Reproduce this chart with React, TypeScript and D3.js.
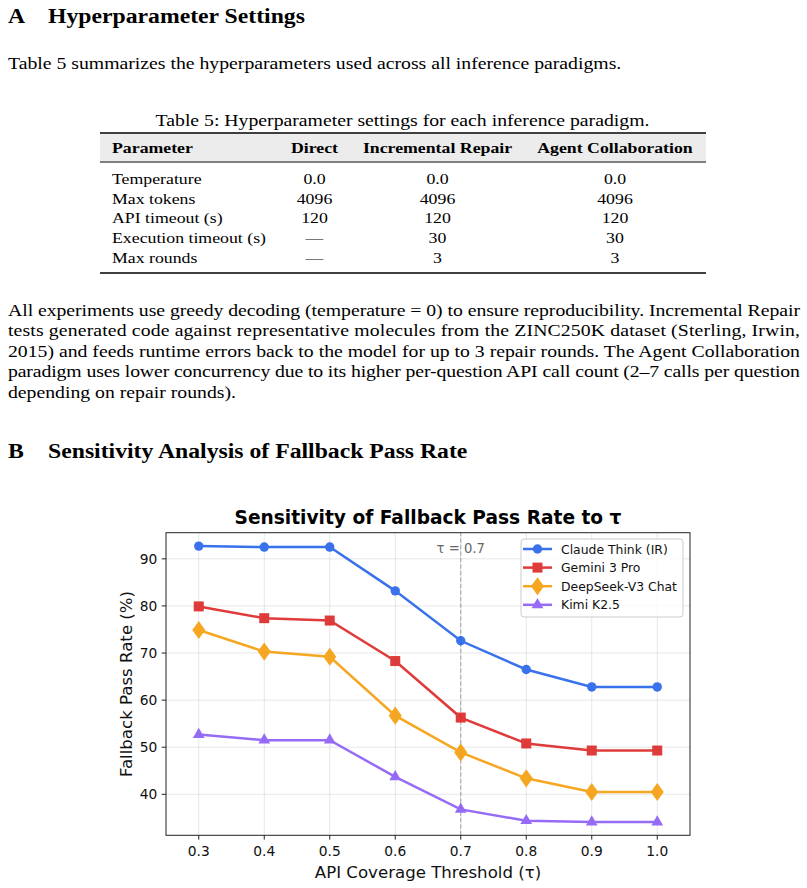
import React from "react";
import * as d3 from "d3";

const thresholds = [0.3, 0.4, 0.5, 0.6, 0.7, 0.8, 0.9, 1.0];
const claudeThink = [92.7, 92.5, 92.5, 83.2, 72.6, 66.5, 62.8, 62.8];
const gemini3Pro = [79.9, 77.4, 76.9, 68.3, 56.3, 50.8, 49.3, 49.3];
const deepseekV3 = [74.9, 70.3, 69.2, 56.7, 48.9, 43.4, 40.5, 40.5];
const kimiK25 = [52.7, 51.5, 51.5, 43.7, 36.8, 34.4, 34.1, 34.1];
const seriesNames = ["Claude Think (IR)", "Gemini 3 Pro", "DeepSeek-V3 Chat", "Kimi K2.5"];
const seriesColors = ["#2563eb", "#dc2626", "#f59e0b", "#8b5cf6"];
const seriesMarkers = ["circle", "square", "diamond", "triangle"];
const yTicks = [40, 50, 60, 70, 80, 90];
const xTickLabels = ["0.3", "0.4", "0.5", "0.6", "0.7", "0.8", "0.9", "1.0"];

const tableHeader = ["Parameter", "Direct", "Incremental Repair", "Agent Collaboration"];
const tableParams = ["Temperature", "Max tokens", "API timeout (s)", "Execution timeout (s)", "Max rounds"];
const tableDirect = ["0.0", "4096", "120", "—", "—"];
const tableIR = ["0.0", "4096", "120", "30", "3"];
const tableAC = ["0.0", "4096", "120", "30", "3"];

const para2Lines = [
  "All experiments use greedy decoding (temperature = 0) to ensure reproducibility. Incremental Repair",
  "tests generated code against representative molecules from the ZINC250K dataset (Sterling, Irwin,",
  "2015) and feeds runtime errors back to the model for up to 3 repair rounds. The Agent Collaboration",
  "paradigm uses lower concurrency due to its higher per-question API call count (2–7 calls per question",
  "depending on repair rounds).",
];

const serif = "'Liberation Serif', 'Times New Roman', serif";
const sans = "'DejaVu Sans', sans-serif";
const SX = 1.162;

function T({
  x,
  y,
  size,
  bold,
  anchor,
  fit,
  children,
}: {
  x: number;
  y: number;
  size: number;
  bold?: boolean;
  anchor?: string;
  fit?: number;
  children: React.ReactNode;
}) {
  const extra: any = fit ? { textLength: fit / SX, lengthAdjust: "spacing" } : {};
  return (
    <text
      transform={`translate(${x},${y}) scale(${SX},1)`}
      fontFamily={serif}
      fontSize={size}
      fontWeight={bold ? "bold" : "normal"}
      textAnchor={anchor || "start"}
      fill="#000"
      {...extra}
    >
      {children}
    </text>
  );
}

function Marker({ kind, x, y, color }: { kind: string; x: number; y: number; color: string }) {
  if (kind === "circle") return <circle cx={x} cy={y} r={4.7} fill={color} />;
  if (kind === "square") return <rect x={x - 5} y={y - 5} width={10} height={10} fill={color} />;
  if (kind === "diamond") {
    const s = d3.symbol().type(d3.symbolDiamond).size(95)();
    return <path d={s || ""} transform={`translate(${x},${y}) scale(1.25,1)`} fill={color} />;
  }
  const t = d3.symbol().type(d3.symbolTriangle).size(60)();
  return <path d={t || ""} transform={`translate(${x},${y})`} fill={color} />;
}

export default function App() {
  const x = d3.scaleLinear().domain([0.25, 1.05]).range([166, 690]);
  const y = d3.scaleLinear().domain([31.3, 95.55]).range([835.3, 532.7]);
  const [x0, x1] = x.range();
  const [y0, y1] = y.range();
  const allSeries = [claudeThink, gemini3Pro, deepseekV3, kimiK25];
  const line = d3
    .line<number>()
    .x((_, i) => x(thresholds[i]))
    .y((d) => y(d));

  const colX = [112, 314.5, 437.5, 615];
  const rowBase = [184, 203.5, 223, 243, 262.5];

  return (
    <svg width={807} height={888} style={{ position: "absolute", left: 0, top: 0, background: "#fff" }}>
      <rect x={0} y={0} width={807} height={888} fill="#fff" />
      {/* Heading A */}
      <T x={8} y={23} size={20.4} bold>A</T>
      <T x={48} y={23} size={20.4} bold>Hyperparameter Settings</T>
      <T x={8} y={68.5} size={17}>
        Table 5 summarizes the hyperparameters used across all inference paradigms.
      </T>

      {/* Table */}
      <T x={402.5} y={126} size={17} anchor="middle">
        Table 5: Hyperparameter settings for each inference paradigm.
      </T>
      <rect x={100} y={134} width={606} height={27} fill="#ececec" />
      <line x1={100} x2={706} y1={133} y2={133} stroke="#000" strokeWidth={1.6} />
      <line x1={100} x2={706} y1={162} y2={162} stroke="#000" strokeWidth={1} />
      <line x1={100} x2={706} y1={273} y2={273} stroke="#000" strokeWidth={1.6} />
      {tableHeader.map((h, i) => (
        <T key={h} x={colX[i]} y={153} size={15.3} bold anchor={i === 0 ? "start" : "middle"}>
          {h}
        </T>
      ))}
      {tableParams.map((p, r) => (
        <g key={p}>
          <T x={colX[0]} y={rowBase[r]} size={15.3}>{p}</T>
          <T x={colX[1]} y={rowBase[r]} size={15.3} anchor="middle">{tableDirect[r]}</T>
          <T x={colX[2]} y={rowBase[r]} size={15.3} anchor="middle">{tableIR[r]}</T>
          <T x={colX[3]} y={rowBase[r]} size={15.3} anchor="middle">{tableAC[r]}</T>
        </g>
      ))}

      {/* Paragraph 2 */}
      {para2Lines.map((l, i) => (
        <T key={i} x={8} y={316 + i * 20.4} size={17} fit={i < para2Lines.length - 1 ? 792 : undefined}>
          {l}
        </T>
      ))}

      {/* Heading B */}
      <T x={8} y={457.5} size={20.4} bold>B</T>
      <T x={48} y={457.5} size={20.4} bold>Sensitivity Analysis of Fallback Pass Rate</T>

      {/* Chart */}
      <g fontFamily={sans}>
        {thresholds.map((t) => (
          <line key={"gx" + t} x1={x(t)} x2={x(t)} y1={y0} y2={y1} stroke="#b0b0b0" strokeOpacity={0.3} strokeWidth={1} />
        ))}
        {yTicks.map((v) => (
          <line key={"gy" + v} x1={x0} x2={x1} y1={y(v)} y2={y(v)} stroke="#b0b0b0" strokeOpacity={0.3} strokeWidth={1} />
        ))}
        <line x1={x(0.7)} x2={x(0.7)} y1={y0} y2={y1} stroke="#808080" strokeOpacity={0.7} strokeWidth={1} strokeDasharray="4.5,2" />
        <text x={x(0.7)} y={y(91.2)} textAnchor="middle" fontSize={13.2} fill="#666">τ = 0.7</text>

        {allSeries.map((s, si) => (
          <g key={seriesNames[si]} opacity={0.9}>
            <path d={line(s) || ""} fill="none" stroke={seriesColors[si]} strokeWidth={2.5} />
            {s.map((v, i) => (
              <Marker key={i} kind={seriesMarkers[si]} x={x(thresholds[i])} y={y(v)} color={seriesColors[si]} />
            ))}
          </g>
        ))}

        <rect x={x0} y={y1} width={x1 - x0} height={y0 - y1} fill="none" stroke="#222" strokeWidth={1} />

        {thresholds.map((t, i) => (
          <g key={"tx" + t}>
            <line x1={x(t)} x2={x(t)} y1={y0} y2={y0 + 4.3} stroke="#222" strokeWidth={1} />
            <text x={x(t)} y={856} textAnchor="middle" fontSize={13.8} fill="#111">{xTickLabels[i]}</text>
          </g>
        ))}
        {yTicks.map((v) => (
          <g key={"ty" + v}>
            <line x1={x0 - 4.3} x2={x0} y1={y(v)} y2={y(v)} stroke="#222" strokeWidth={1} />
            <text x={x0 - 8.6} y={y(v) + 5} textAnchor="end" fontSize={13.8} fill="#111">{v}</text>
          </g>
        ))}

        <text x={(x0 + x1) / 2} y={524} textAnchor="middle" fontSize={18.6} fontWeight="bold" fill="#000">
          Sensitivity of Fallback Pass Rate to τ
        </text>
        <text x={(x0 + x1) / 2} y={878} textAnchor="middle" fontSize={16.6} fill="#111">
          API Coverage Threshold (τ)
        </text>
        <text transform={`translate(132,${(y0 + y1) / 2}) rotate(-90)`} textAnchor="middle" fontSize={16.6} fill="#111">
          Fallback Pass Rate (%)
        </text>

        <rect x={521} y={539} width={162} height={78} rx={3} fill="#fff" fillOpacity={0.8} stroke="#cccccc" strokeWidth={1} />
        {seriesNames.map((n, i) => {
          const ly = 549 + i * 18.6;
          return (
            <g key={n}>
              <g opacity={0.9}>
                <line x1={523} x2={552} y1={ly} y2={ly} stroke={seriesColors[i]} strokeWidth={2.5} />
                <Marker kind={seriesMarkers[i]} x={537.5} y={ly} color={seriesColors[i]} />
              </g>
              <text x={561} y={ly + 4.5} fontSize={12.4} fill="#111">{n}</text>
            </g>
          );
        })}
      </g>
    </svg>
  );
}
